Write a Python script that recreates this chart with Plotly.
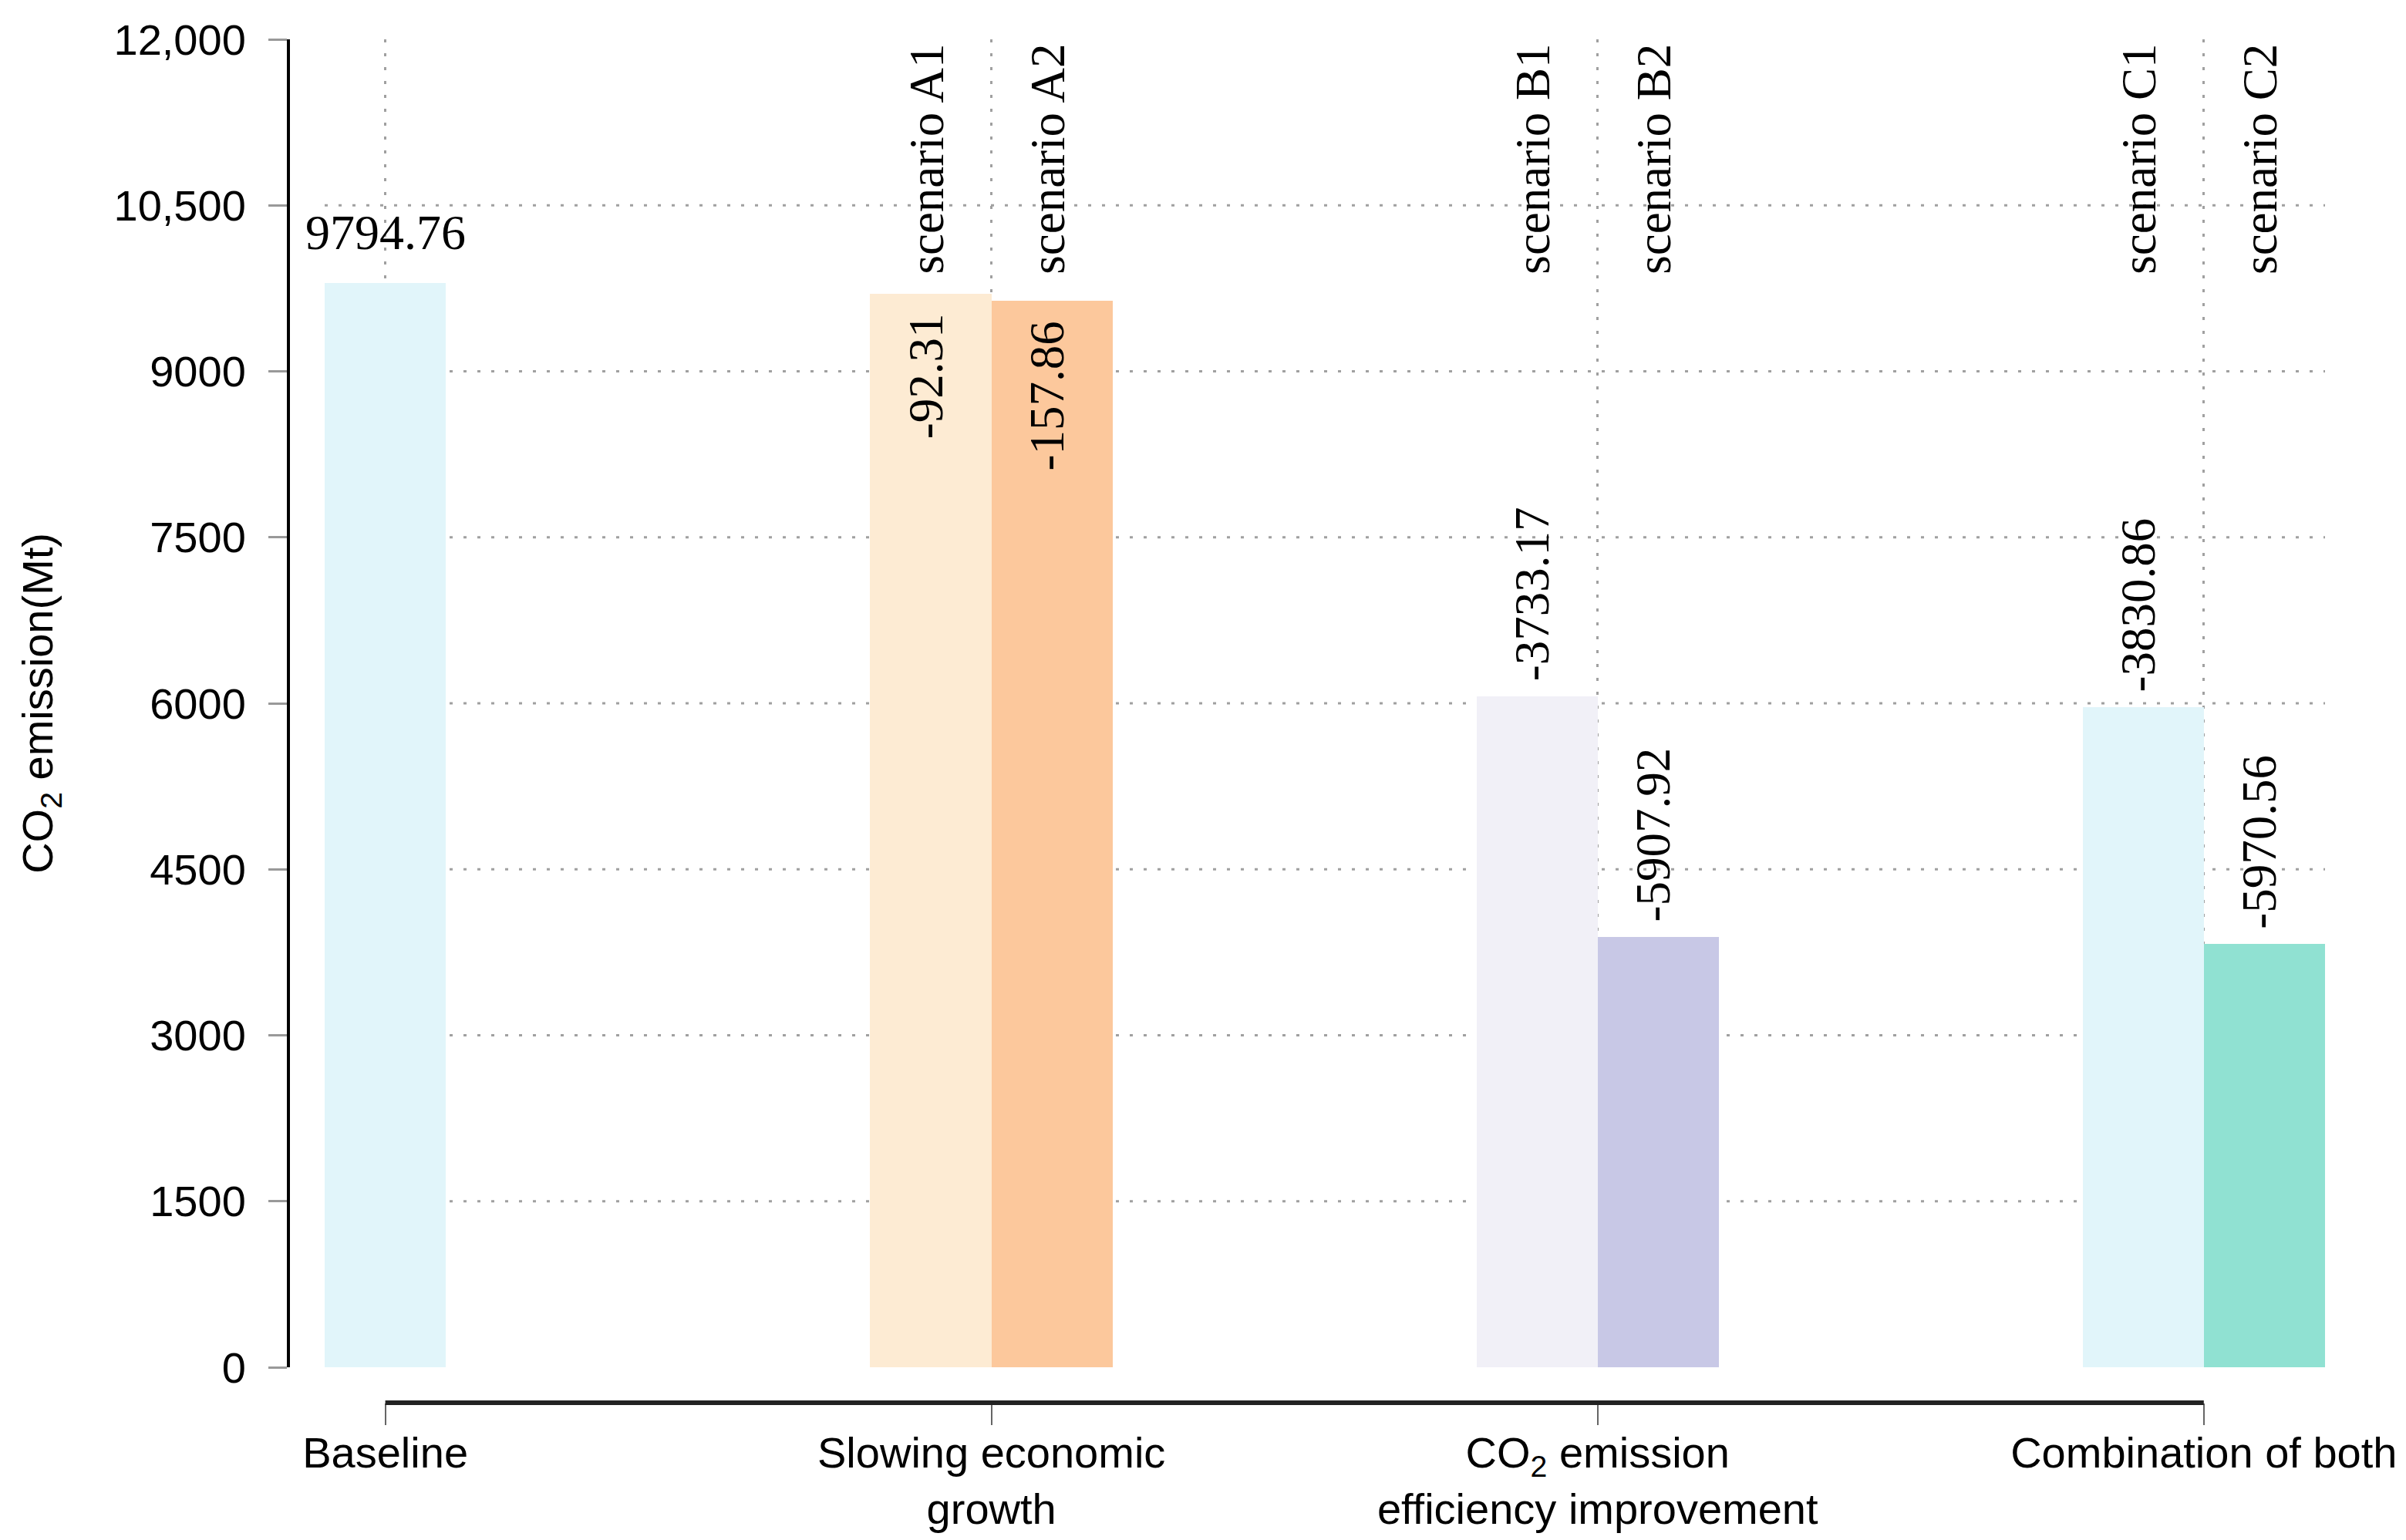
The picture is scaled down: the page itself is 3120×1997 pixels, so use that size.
import plotly.graph_objects as go

# ---------------- data ----------------
groups = ["Baseline", "Slowing economic<br>growth",
          "CO<sub>2</sub> emission<br>efficiency improvement", "Combination of both"]
baseline_value = 9794.76
scenario_names = ["scenario A1", "scenario A2", "scenario B1", "scenario B2",
                  "scenario C1", "scenario C2"]
scenario_group = [1, 1, 2, 2, 3, 3]
scenario_side = [-1, 1, -1, 1, -1, 1]
scenario_change = [-92.31, -157.86, -3733.17, -5907.92, -3830.86, -5970.56]
y_tickvals = [0, 1500, 3000, 4500, 6000, 7500, 9000, 10500, 12000]
y_ticktext = ["0", "1500", "3000", "4500", "6000", "7500", "9000", "10,500", "12,000"]
grid_vals = [1500, 3000, 4500, 6000, 7500, 9000, 10500]

# ---------------- styles ----------------
baseline_color = "#E1F5FA"
scenario_colors = ["#FDEBD3", "#FCC89C", "#F1F0F7", "#C8C8E6", "#E1F5FA", "#90E1D2"]
sans = "Liberation Sans, Arial, sans-serif"
serif = "Liberation Serif, Times New Roman, serif"
bar_w = 0.2
x_range = [-0.1, 3.2]
dot = "4px,14px"

scen_x = [g + s * bar_w / 2 for g, s in zip(scenario_group, scenario_side)]
scen_y = [baseline_value + c for c in scenario_change]

fig = go.Figure()
fig.add_trace(go.Bar(x=[0], y=[baseline_value], width=[bar_w],
                     marker=dict(color=baseline_color, line=dict(width=0)),
                     showlegend=False, hoverinfo="y"))
fig.add_trace(go.Bar(x=scen_x, y=scen_y, width=[bar_w] * len(scen_x),
                     marker=dict(color=scenario_colors, line=dict(width=0)),
                     showlegend=False, hoverinfo="y"))

ann = []
ann.append(dict(x=0, y=baseline_value, xref="x", yref="y", text=f"{baseline_value:.2f}",
                showarrow=False, yanchor="bottom", xanchor="center", yshift=28,
                font=dict(family=serif, size=64, color="black")))
for name, x, y, c in zip(scenario_names, scen_x, scen_y, scenario_change):
    ann.append(dict(x=x, y=y_tickvals[-1], xref="x", yref="y", text=name,
                    showarrow=False, textangle=-90, yanchor="top", xanchor="center",
                    yshift=-4, xshift=-6, font=dict(family=serif, size=63, color="black")))
    inside = (y_tickvals[-1] - y) < 3000
    ann.append(dict(x=x, y=y, xref="x", yref="y", text=f"{c:.2f}",
                    showarrow=False, textangle=-90,
                    yanchor="top" if inside else "bottom", xanchor="center",
                    yshift=-24 if inside else 18, xshift=-6,
                    font=dict(family=serif, size=63, color="black")))
ann.append(dict(x=-0.122, y=6000, xref="paper", yref="y",
                text="CO<sub>2</sub> emission(Mt)", showarrow=False, textangle=-90,
                xanchor="center", yanchor="middle",
                font=dict(family=sans, size=56, color="black")))

shapes = []
for gv in grid_vals:
    shapes.append(dict(type="line", xref="x domain", yref="y", x0=0, x1=1, y0=gv, y1=gv,
                       layer="below", line=dict(color="#A0A0A0", width=3, dash=dot)))
shapes.append(dict(type="line", xref="x", yref="paper", x0=0, x1=len(groups) - 1,
                   y0=0, y1=0, line=dict(color="#222222", width=6)))

fig.update_layout(
    width=3120, height=1997,
    margin=dict(l=366, r=113, t=40, b=186),
    paper_bgcolor="white", plot_bgcolor="white",
    bargap=0, showlegend=False,
    annotations=ann, shapes=shapes,
    xaxis=dict(range=x_range, domain=[0.0178, 1], anchor="free", position=0,
               tickvals=list(range(len(groups))), ticktext=groups,
               ticks="outside", ticklen=28, tickwidth=2, tickcolor="#666666",
               showline=False, zeroline=False,
               showgrid=True, gridcolor="#A0A0A0", gridwidth=3, griddash=dot,
               tickfont=dict(family=sans, size=56, color="black"),
               ticklabelstandoff=-12),
    yaxis=dict(range=[0, 12000], domain=[0.026, 1], anchor="free", position=0,
               tickvals=y_tickvals, ticktext=y_ticktext,
               ticks="outside", ticklen=24, tickwidth=3, tickcolor="#999999",
               showline=True, linecolor="black", linewidth=4,
               showgrid=False, zeroline=False,
               tickfont=dict(family=sans, size=56, color="black"),
               ticklabelstandoff=18),
)

fig.write_html("out.html")
